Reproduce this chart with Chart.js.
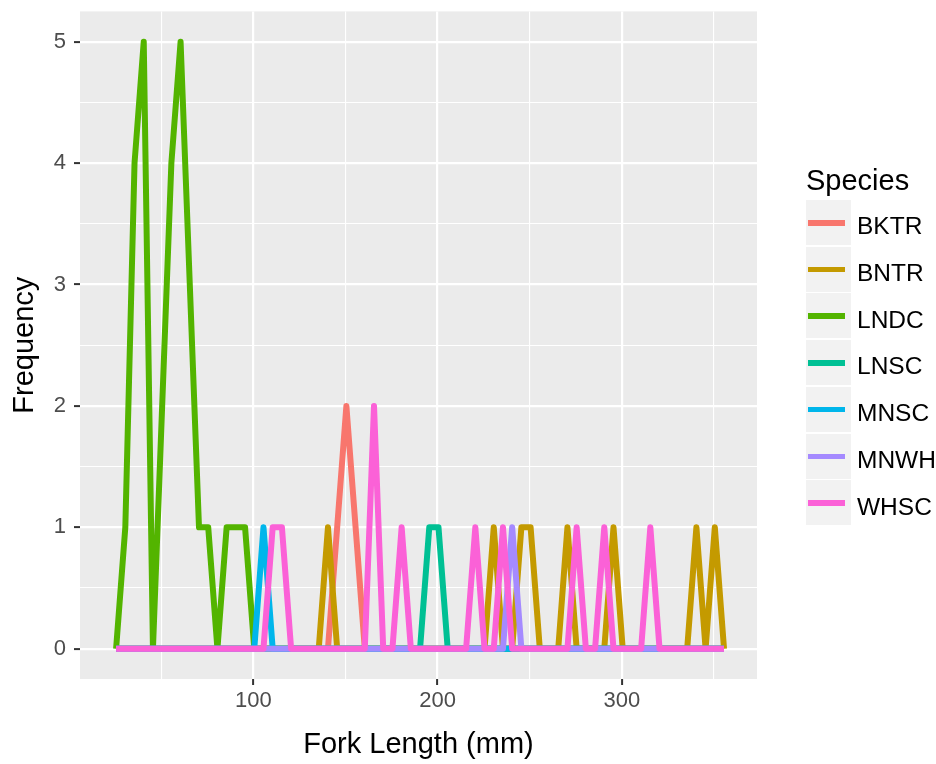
<!DOCTYPE html>
<html><head><meta charset="utf-8">
<script src="https://cdn.jsdelivr.net/npm/chart.js@4.4.1/dist/chart.umd.min.js"></script>
<style>
html,body{margin:0;padding:0;background:#fff;}
#wrap{position:relative;width:936px;height:764px;overflow:hidden;}
#c{position:absolute;left:0;top:0;}
#legend{position:absolute;left:0;top:0;width:936px;height:764px;pointer-events:none;font-family:"Liberation Sans",Arial,sans-serif;color:#000;}
.lt{position:absolute;left:806px;top:165.5px;font-size:29px;line-height:29px;white-space:nowrap;}
.kb{position:absolute;left:806px;width:45px;height:45px;background:#F2F2F2;}
.kl{position:absolute;left:2px;top:20px;width:37px;height:5.5px;}
.kt{position:absolute;left:857px;font-size:24.5px;line-height:24.5px;white-space:nowrap;}
</style></head><body>
<div id="wrap"><canvas id="c" width="936" height="764"></canvas><div id="legend"></div></div>
<script>
// Bin centres (Fork Length, mm)
const lengths = [25.5,30.5,35.5,40.5,45.5,50.5,55.5,60.5,65.5,70.5,
  75.5,80.5,85.5,90.5,95.5,100.5,105.5,110.5,115.5,120.5,
  125.5,130.5,135.5,140.5,145.5,150.5,155.5,160.5,165.5,170.5,
  175.5,180.5,185.5,190.5,195.5,200.5,205.5,210.5,215.5,220.5,
  225.5,230.5,235.5,240.5,245.5,250.5,255.5,260.5,265.5,270.5,
  275.5,280.5,285.5,290.5,295.5,300.5,305.5,310.5,315.5,320.5,
  325.5,330.5,335.5,340.5,345.5,350.5,355.5];

const species = ["BKTR","BNTR","LNDC","LNSC","MNSC","MNWH","WHSC"];
const colors  = ["#F8766D","#C49A00","#53B400","#00C094","#00B6EB","#A58AFF","#FB61D7"];

// Frequencies per bin
const bktr = [0,0,0,0,0,0,0,0,0,0, 0,0,0,0,0,0,0,0,0,0, 0,0,0,0,1,2,1,0,0,0,
  0,0,0,0,0,0,0,0,0,0, 0,0,0,0,0,0,0,0,0,0, 0,0,0,0,0,0,0,0,0,0, 0,0,0,0,0,0,0];
const bntr = [0,0,0,0,0,0,0,0,0,0, 0,0,0,0,0,0,0,0,0,0, 0,0,0,1,0,0,0,0,0,0,
  0,0,0,0,0,0,0,0,0,0, 0,1,0,0,1,1,0,0,0,1, 0,0,0,0,1,0,0,0,0,0, 0,0,0,1,0,1,0];
const lndc = [0,1,4,5,0,2,4,5,3,1, 1,0,1,1,1,0,0,0,0,0, 0,0,0,0,0,0,0,0,0,0,
  0,0,0,0,0,0,0,0,0,0, 0,0,0,0,0,0,0,0,0,0, 0,0,0,0,0,0,0,0,0,0, 0,0,0,0,0,0,0];
const lnsc = [0,0,0,0,0,0,0,0,0,0, 0,0,0,0,0,0,0,0,0,0, 0,0,0,0,0,0,0,0,0,0,
  0,0,0,0,1,1,0,0,0,0, 0,0,0,0,0,0,0,0,0,0, 0,0,0,0,0,0,0,0,0,0, 0,0,0,0,0,0,0];
const mnsc = [0,0,0,0,0,0,0,0,0,0, 0,0,0,0,0,0,1,0,0,0, 0,0,0,0,0,0,0,0,0,0,
  0,0,0,0,0,0,0,0,0,0, 0,0,0,0,0,0,0,0,0,0, 0,0,0,0,0,0,0,0,0,0, 0,0,0,0,0,0,0];
const mnwh = [0,0,0,0,0,0,0,0,0,0, 0,0,0,0,0,0,0,0,0,0, 0,0,0,0,0,0,0,0,0,0,
  0,0,0,0,0,0,0,0,0,0, 0,0,0,1,0,0,0,0,0,0, 0,0,0,0,0,0,0,0,0,0, 0,0,0,0,0,0,0];
const whsc = [0,0,0,0,0,0,0,0,0,0, 0,0,0,0,0,0,0,1,1,0, 0,0,0,0,0,0,0,0,2,0,
  0,1,0,0,0,0,0,0,0,1, 0,0,1,0,0,0,0,0,0,0, 1,0,0,1,0,0,0,0,1,0, 0,0,0,0,0,0,0];

const xTicks = [50,100,150,200,250,300,350];
const xLabels = [100,200,300];
const yTicks = [0,0.5,1,1.5,2,2.5,3,3.5,4,4.5,5];
const yLabels = [0,1,2,3,4,5];

const seriesValues = [bktr,bntr,lndc,lnsc,mnsc,mnwh,whsc];

const FONT = "'Liberation Sans', Arial, sans-serif";

const datasets = species.map((name,i)=>({
  label: name,
  data: lengths.map((x,j)=>({x:x, y:seriesValues[i][j]})),
  borderColor: colors[i],
  backgroundColor: colors[i],
  borderWidth: 6,
  pointRadius: 0,
  pointHoverRadius: 0,
  tension: 0,
  fill: false,
  borderJoinStyle: 'round',
  borderCapStyle: 'butt',
  order: species.length - 1 - i
}));

const panelBg = {
  id:'panelBg',
  beforeDraw(chart){
    const {ctx, chartArea:a} = chart;
    ctx.save();
    ctx.fillStyle = '#EBEBEB';
    ctx.fillRect(a.left, a.top, a.right-a.left, a.bottom-a.top);
    ctx.restore();
  }
};

new Chart(document.getElementById('c'), {
  type:'line',
  data:{datasets},
  plugins:[panelBg],
  options:{
    responsive:false,
    devicePixelRatio:1,
    animation:false,
    events:[],
    layout:{padding:{left:0,top:11.4,right:179,bottom:0}},
    plugins:{legend:{display:false},tooltip:{enabled:false}},
    scales:{
      x:{
        type:'linear', min:5.9, max:373.4,
        afterBuildTicks(s){ s.ticks = xTicks.map(v=>({value:v})); },
        afterFit(s){ s.height = 85; s.paddingLeft = 0; s.paddingRight = 0; },
        border:{display:false},
        grid:{
          color:'#FFFFFF',
          lineWidth:(c)=> xLabels.includes(c.tick.value) ? 2.2 : 1.1,
          drawTicks:true, tickLength:6,
          tickColor:(c)=> xLabels.includes(c.tick.value) ? '#333333' : 'rgba(0,0,0,0)',
          tickWidth:2
        },
        ticks:{
          color:'#4D4D4D', font:{family:FONT,size:22}, padding:3, maxRotation:0, autoSkip:false,
          callback:(v)=> xLabels.includes(v) ? String(v) : ''
        },
        title:{display:true,text:'Fork Length (mm)',color:'#000',font:{family:FONT,size:29},padding:{top:0,bottom:2}}
      },
      y:{
        type:'linear', min:-0.25, max:5.25,
        afterBuildTicks(s){ s.ticks = yTicks.map(v=>({value:v})); },
        afterFit(s){ s.width = 80; s.paddingTop = 0; s.paddingBottom = 0; },
        border:{display:false},
        grid:{
          color:'#FFFFFF',
          lineWidth:(c)=> yLabels.includes(c.tick.value) ? 2.2 : 1.1,
          drawTicks:true, tickLength:6,
          tickColor:(c)=> yLabels.includes(c.tick.value) ? '#333333' : 'rgba(0,0,0,0)',
          tickWidth:2
        },
        ticks:{
          color:'#4D4D4D', font:{family:FONT,size:22}, padding:8, autoSkip:false,
          callback:(v)=> yLabels.includes(v) ? String(v) : ''
        },
        title:{display:true,text:'Frequency',color:'#000',font:{family:FONT,size:29},padding:{top:8,bottom:0}}
      }
    }
  }
});

// Legend (HTML)
const lg = document.getElementById('legend');
const t = document.createElement('div'); t.className='lt'; t.textContent='Species'; lg.appendChild(t);
species.forEach((name,i)=>{
  const top = 200 + i*46.7;
  const b = document.createElement('div'); b.className='kb'; b.style.top = top+'px';
  const l = document.createElement('div'); l.className='kl'; l.style.background = colors[i];
  b.appendChild(l); lg.appendChild(b);
  const tx = document.createElement('div'); tx.className='kt'; tx.style.top = (top+14.3)+'px'; tx.textContent = name;
  lg.appendChild(tx);
});
</script>
</body></html>
